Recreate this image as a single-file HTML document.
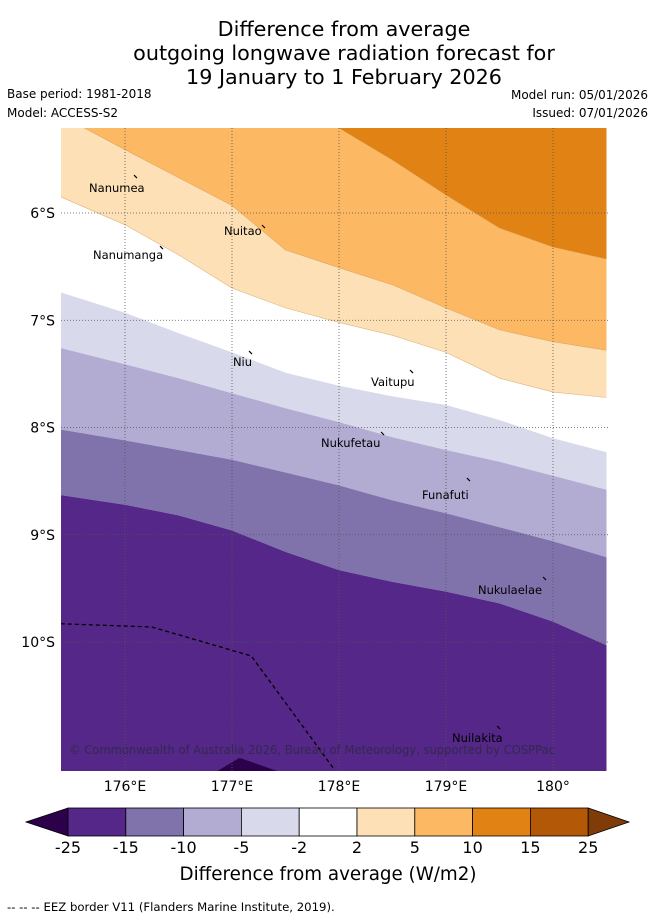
<!DOCTYPE html>
<html><head><meta charset="utf-8"><style>
body{margin:0;background:#fff;width:655px;height:919px;overflow:hidden;font-family:"Liberation Sans","DejaVu Sans",sans-serif}
svg{display:block}
</style></head><body>
<svg id="s" width="655" height="919" xmlns="http://www.w3.org/2000/svg" font-family="'DejaVu Sans','Liberation Sans',sans-serif">
<g font-size="20.7" text-anchor="middle" fill="#000">
<text x="344" y="36">Difference from average</text>
<text x="344" y="60">outgoing longwave radiation forecast for</text>
<text x="344" y="84">19 January to 1 February 2026</text>
</g>
<g font-size="12" fill="#000">
<text x="7" y="98">Base period: 1981-2018</text>
<text x="7" y="117">Model: ACCESS-S2</text>
<text x="648" y="99" text-anchor="end">Model run: 05/01/2026</text>
<text x="648" y="117" text-anchor="end">Issued: 07/01/2026</text>
</g>
<defs><clipPath id="mc"><rect x="61" y="128" width="547" height="643"/></clipPath></defs>
<g id="map" clip-path="url(#mc)"></g>
<g id="axes"></g>
<g id="cbar"></g>
<text x="328" y="880" font-size="18.3" text-anchor="middle">Difference from average (W/m2)</text>
<text x="7" y="911" font-size="11.7">--  --  -- EEZ border V11 (Flanders Marine Institute, 2019).</text>
</svg>
<script>
const lons=[175.4,176,176.5,177,177.5,178,178.5,179,179.5,180,180.5];
const b10=[5.0,5.0,5.0,5.0,5.05,5.207,5.506,5.832,6.14,6.317,6.429];
const b5=[5.09,5.41,5.67,5.93,6.345,6.51,6.67,6.886,7.09,7.20,7.28];
const b2=[5.85,6.11,6.39,6.70,6.885,7.02,7.14,7.30,7.54,7.67,7.72];
const bm2=[6.74,6.93,7.12,7.30,7.49,7.61,7.71,7.79,7.93,8.10,8.23];
const bm5=[7.26,7.41,7.54,7.68,7.82,7.95,8.09,8.21,8.32,8.45,8.58];
const bm10=[8.02,8.12,8.21,8.30,8.42,8.54,8.68,8.80,8.93,9.06,9.21];
const bm15=[8.63,8.72,8.82,8.96,9.16,9.33,9.44,9.53,9.64,9.81,10.03];
const lowLon=[176.7,177.07,177.7];
const lowLat=[11.3,11.08,11.3];
const eezLon=[175.4,176.25,177.18,177.95];
const eezLat=[9.83,9.86,10.13,11.18];
const lonTicks=[176,177,178,179,180];
const lonLabels=["176°E","177°E","178°E","179°E","180°"];
const latTicks=[6,7,8,9,10];
const latLabels=["6°S","7°S","8°S","9°S","10°S"];
const islands=["Nanumea","Nuitao","Nanumanga","Niu","Vaitupu","Nukufetau","Funafuti","Nukulaelae","Nuilakita"];
const islLon=[176.084,177.280,176.327,177.159,178.664,178.393,179.196,179.907,179.477];
const islLat=[5.646,6.112,6.308,7.287,7.464,8.042,8.471,9.394,10.783];
const lblLon=[175.664,176.925,175.701,177.009,178.299,177.832,178.776,179.299,179.056];
const lblLat=[5.804,6.205,6.429,7.427,7.613,8.182,8.667,9.553,10.932];
const cLevels=["-25","-15","-10","-5","-2","2","5","10","15","25"];
const cColors=["#542788","#8073ac","#b2abd2","#d8daeb","#ffffff","#fee0b6","#fdb863","#e08214","#b35806"];

const X=l=>125+(l-176)*107, Y=l=>213+(l-6)*107.25;
const NS="http://www.w3.org/2000/svg";
function mk(tag,attrs,parent){const e=document.createElementNS(NS,tag);for(const k in attrs)e.setAttribute(k,attrs[k]);parent.appendChild(e);return e;}
const map=document.getElementById('map');
function pts(lats){return lons.map((l,i)=>X(l).toFixed(1)+','+Y(lats[i]).toFixed(1));}
function band(top,bot,col,name){
  const t=top?pts(top):lons.map(l=>X(l)+','+100);
  const b=bot?pts(bot).reverse():lons.slice().reverse().map(l=>X(l)+','+800);
  const p=mk('polygon',{points:t.concat(b).join(' '),fill:col,stroke:'none'},map);
  
  
}
band(null,b10,'#e08214','band-10-15');
band(b10,b5,'#fdb863','band-5-10');
band(b5,b2,'#fee0b6','band-2-5');
band(b2,bm2,'#ffffff','band-neutral');
band(bm2,bm5,'#d8daeb','band-minus2-minus5');
band(bm5,bm10,'#b2abd2','band-minus5-minus10');
band(bm10,bm15,'#8073ac','band-minus10-minus15');
band(bm15,null,'#542788','band-minus15-minus25');
[b10,b5,b2].forEach(b=>{const l=mk('polyline',{points:pts(b).join(' '),fill:'none',stroke:'#c88a3a','stroke-width':0.6,'stroke-opacity':0.6},map);

});
const low=mk('polygon',{points:lowLon.map((l,i)=>X(l)+','+Y(lowLat[i])).join(' '),fill:'#2d004b'},map);


lonTicks.forEach(l=>{const g=mk('line',{x1:X(l),x2:X(l),y1:128,y2:771,stroke:'#555','stroke-width':0.8,'stroke-dasharray':'1,2'},map);

});
latTicks.forEach(l=>{const g=mk('line',{x1:61,x2:608,y1:Y(l),y2:Y(l),stroke:'#555','stroke-width':0.8,'stroke-dasharray':'1,2'},map);

});
const eez=mk('polyline',{points:eezLon.map((l,i)=>X(l)+','+Y(eezLat[i])).join(' '),fill:'none',stroke:'#000','stroke-width':1.3,'stroke-dasharray':'4,3'},map);


islands.forEach((n,i)=>{const x=X(islLon[i]),y=Y(islLat[i]);
 const m=mk('line',{x1:x,y1:y,x2:x+3,y2:y+3,stroke:'#000','stroke-width':1.2},map);
 
 
 const t=mk('text',{x:X(lblLon[i]),y:Y(lblLat[i]),'font-size':11.5,fill:'#000'},map);t.textContent=n;
 
 });
const cp=mk('text',{x:69,y:754,'font-size':12,fill:'#2a2a3a','fill-opacity':0.75,textLength:486,lengthAdjust:'spacingAndGlyphs'},map);cp.textContent="© Commonwealth of Australia 2026, Bureau of Meteorology, supported by COSPPac";


const ax=document.getElementById('axes');
lonTicks.forEach((l,i)=>{const t=mk('text',{x:X(l),y:791,'font-size':14,'text-anchor':'middle'},ax);t.textContent=lonLabels[i];

});
latTicks.forEach((l,i)=>{const t=mk('text',{x:55,y:Y(l)+5,'font-size':14,'text-anchor':'end'},ax);t.textContent=latLabels[i];

});
const cb=document.getElementById('cbar');
const x0=68,w=57.8,y0=808,h=28;
const lt=mk('polygon',{points:`26,${y0+h/2} ${x0},${y0} ${x0},${y0+h}`,fill:'#2d004b',stroke:'#000','stroke-width':0.8},cb);


cColors.forEach((c,i)=>{const r=mk('rect',{x:x0+i*w,y:y0,width:w,height:h,fill:c,stroke:'#000','stroke-width':0.8},cb);

});
const xe=x0+9*w;
const rt=mk('polygon',{points:`${xe},${y0} 629,${y0+h/2} ${xe},${y0+h}`,fill:'#7f3b08',stroke:'#000','stroke-width':0.8},cb);


cLevels.forEach((v,i)=>{const t=mk('text',{x:x0+i*w,y:853,'font-size':16,'text-anchor':'middle'},cb);t.textContent=v;

});
</script>
</body></html>
